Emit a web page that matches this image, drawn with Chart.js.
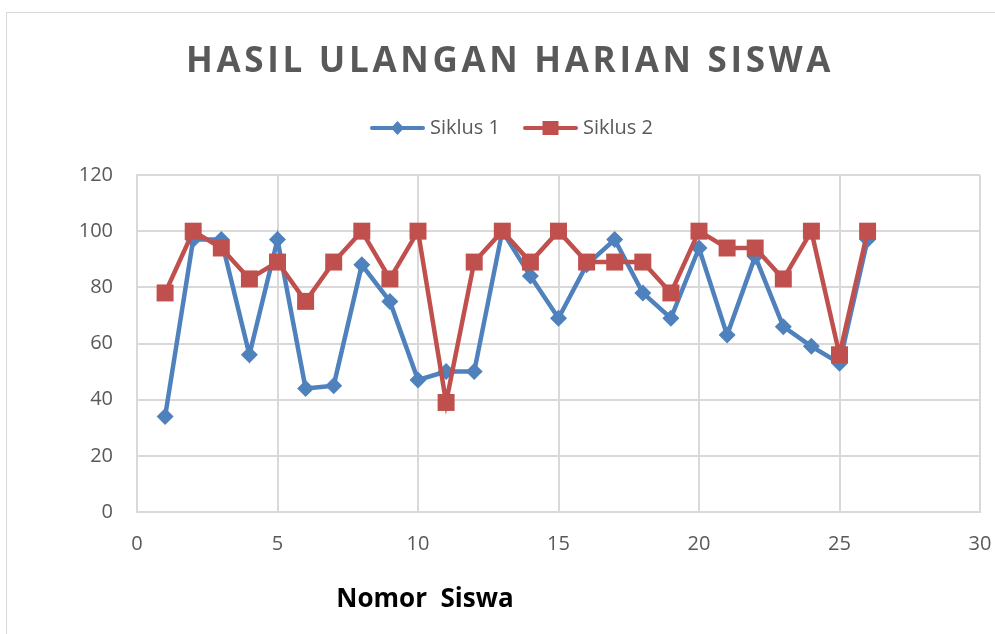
<!DOCTYPE html>
<html>
<head>
<meta charset="utf-8">
<script src="https://cdn.jsdelivr.net/npm/chart.js@4.4.0/dist/chart.umd.min.js"></script>
<style>
  html, body { margin: 0; padding: 0; background: #fff; overflow: hidden; }
  #frame { position: absolute; left: 6px; top: 12px; width: 1100px; height: 800px; border: 1px solid #d9d9d9; }
  #wrap { position: absolute; left: 0; top: 0; width: 995px; height: 634px; }
</style>
</head>
<body>
<div id="frame"></div>
<div id="wrap"><canvas id="lineChart"></canvas></div>
<script>
var nomorSiswa = [1, 2, 3, 4, 5, 6, 7, 8, 9, 10, 11, 12, 13, 14, 15, 16, 17, 18, 19, 20, 21, 22, 23, 24, 25, 26];
var siklus1 = [34, 97, 97, 56, 97, 44, 45, 88, 75, 47, 50, 50, 100, 84, 69, 88, 97, 78, 69, 94, 63, 91, 66, 59, 53, 97];
var siklus2 = [78, 100, 94, 83, 89, 75, 89, 100, 83, 100, 39, 89, 100, 89, 100, 89, 89, 89, 78, 100, 94, 94, 83, 100, 56, 100];
var xTicks = [0, 5, 10, 15, 20, 25, 30];
var yTicks = [0, 20, 40, 60, 80, 100, 120];
var judul = 'HASIL ULANGAN HARIAN SISWA';
var judulSumbuX = 'Nomor  Siswa';

(function () {
    var biru = '#4F81BD';
    var merah = '#C0504D';
    var abu = '#595959';
    var garis = '#d9d9d9';

    // ikon legenda: garis dengan penanda di tengah
    function buatIkon(warna, bentuk) {
        var c = document.createElement('canvas');
        c.width = 55;
        c.height = 20;
        var g = c.getContext('2d');
        g.strokeStyle = warna;
        g.fillStyle = warna;
        g.lineWidth = 4;
        g.lineCap = 'round';
        g.beginPath();
        g.moveTo(2, 10);
        g.lineTo(53, 10);
        g.stroke();
        if (bentuk === 'diamond') {
            g.beginPath();
            g.moveTo(27.5, 3);
            g.lineTo(34, 10);
            g.lineTo(27.5, 17);
            g.lineTo(21, 10);
            g.closePath();
            g.fill();
        } else {
            g.fillRect(19.5, 3, 16, 14);
        }
        return c;
    }

    var ikon = [buatIkon(biru, 'diamond'), buatIkon(merah, 'square')];

    function toPoints(values) {
        return values.map(function (v, i) { return { x: nomorSiswa[i], y: v }; });
    }

    function tanpaPaddingSamping(scale) {
        scale.paddingLeft = 0;
        scale.paddingRight = 0;
    }

    var teksPlugin = {
        id: 'teksJudul',
        afterDraw: function (chart) {
            var ctx = chart.ctx;
            ctx.save();
            ctx.fillStyle = abu;
            ctx.font = 'bold 35px "Open Sans"';
            ctx.textAlign = 'center';
            ctx.textBaseline = 'alphabetic';
            ctx.letterSpacing = '3.7px';
            ctx.fillText(judul, 510, 72);
            ctx.letterSpacing = '0px';
            ctx.fillStyle = '#000000';
            ctx.font = 'bold 26px "Open Sans"';
            ctx.fillText(judulSumbuX, 425, 607);
            ctx.restore();
        }
    };

    var ctx = document.getElementById('lineChart').getContext('2d');
    new Chart(ctx, {
        type: 'line',
        data: {
            datasets: [{
                label: 'Siklus 1',
                data: toPoints(siklus1),
                borderColor: biru,
                backgroundColor: biru,
                borderWidth: 4.5,
                pointStyle: 'rectRot',
                pointRadius: 8.5,
                pointBorderWidth: 0,
                tension: 0,
                order: 1
            }, {
                label: 'Siklus 2',
                data: toPoints(siklus2),
                borderColor: merah,
                backgroundColor: merah,
                borderWidth: 4.5,
                pointStyle: 'rect',
                pointRadius: 12,
                pointBorderWidth: 0,
                tension: 0,
                order: 0
            }]
        },
        options: {
            responsive: true,
            maintainAspectRatio: false,
            animation: false,
            layout: {
                padding: { top: 90, left: 48, right: 15, bottom: 0 }
            },
            plugins: {
                legend: {
                    position: 'top',
                    labels: {
                        usePointStyle: true,
                        pointStyleWidth: 45,
                        padding: 28,
                        color: abu,
                        font: { family: 'Open Sans', size: 20 },
                        generateLabels: function (chart) {
                            return chart.data.datasets.map(function (ds, i) {
                                return {
                                    text: ds.label,
                                    fontColor: abu,
                                    pointStyle: ikon[i],
                                    datasetIndex: i,
                                    hidden: false,
                                    lineWidth: 0
                                };
                            });
                        }
                    }
                },
                tooltip: { enabled: false }
            },
            scales: {
                x: {
                    type: 'linear',
                    min: 0,
                    max: 30,
                    afterBuildTicks: function (scale) {
                        scale.ticks = xTicks.map(function (v) { return { value: v }; });
                    },
                    afterFit: function (scale) {
                        scale.height = 122;
                        tanpaPaddingSamping(scale);
                    },
                    grid: { color: garis, lineWidth: 2, drawTicks: false },
                    border: { color: garis, width: 2 },
                    ticks: { color: abu, padding: 20, font: { family: 'Open Sans', size: 20 } }
                },
                xAtas: {
                    type: 'linear',
                    position: 'top',
                    min: 0,
                    max: 30,
                    afterFit: function (scale) {
                        scale.height = 27;
                        tanpaPaddingSamping(scale);
                    },
                    grid: { display: false },
                    border: { display: false },
                    ticks: { display: false }
                },
                y: {
                    min: 0,
                    max: 120,
                    afterBuildTicks: function (scale) {
                        scale.ticks = yTicks.map(function (v) { return { value: v }; });
                    },
                    afterFit: function (scale) {
                        scale.width = 89;
                        scale.paddingTop = 0;
                        scale.paddingBottom = 0;
                    },
                    grid: { color: garis, lineWidth: 2, drawTicks: false },
                    border: { color: garis, width: 2 },
                    ticks: { color: abu, padding: 24, font: { family: 'Open Sans', size: 20 } }
                }
            }
        },
        plugins: [teksPlugin]
    });
})();
</script>
</body>
</html>
